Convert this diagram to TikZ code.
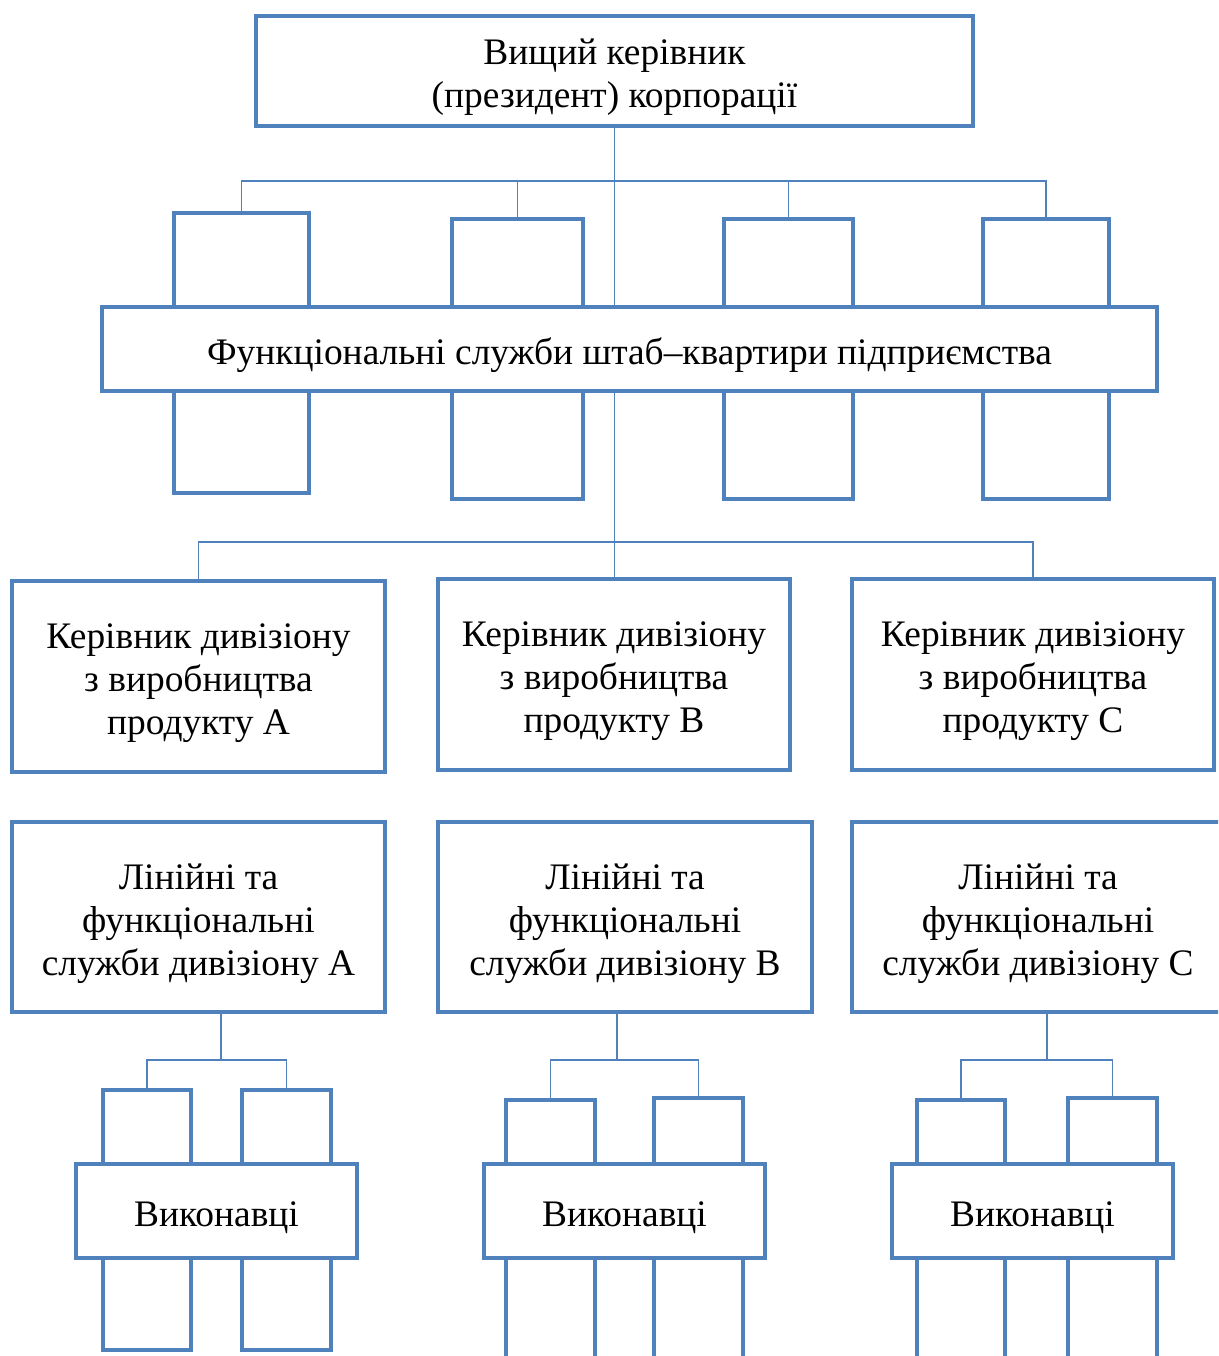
\documentclass[tikz,border=0pt]{standalone}
\usepackage{fontspec}
\setmainfont{Liberation Serif}
\definecolor{boxblue}{RGB}{79,129,189}
\newcommand\strutup{\rule{0pt}{22pt}}
\tikzset{
  blok/.style={draw=boxblue, line width=2.2pt, fill=white, inner sep=0pt, align=center,
    font=\fontsize{21.3}{24.4}\selectfont},
  lnk/.style={draw=boxblue, line width=1.1pt},
}
\begin{document}
\begin{tikzpicture}[x=0.02cm, y=-0.02cm]
  \useasboundingbox (0,0) rectangle (1218,1356);
  \clip (0,0) rectangle (1218,1356);
  % Top manager
  \node[blok, minimum width=14.34cm, minimum height=2.2cm] (top) at (614.5,71)
    {\strutup Вищий керівник\\(президент) корпорації};
  % Functional services of headquarters
  \node[blok, minimum width=2.7cm, minimum height=5.6cm] (f1) at (241.5,353) {};
  \node[blok, minimum width=2.62cm, minimum height=5.6cm] (f2) at (517.5,359) {};
  \node[blok, minimum width=2.58cm, minimum height=5.6cm] (f3) at (788.5,359) {};
  \node[blok, minimum width=2.52cm, minimum height=5.6cm] (f4) at (1046,359) {};
  \node[blok, minimum width=21.1cm, minimum height=1.68cm] (band) at (629.5,349)
    {\strutup Функціональні служби штаб–квартири підприємства};
  % Division managers
  \node[blok, minimum width=7.46cm, minimum height=3.82cm] (divA) at (198.5,676.5)
    {\strutup Керівник дивізіону\\з виробництва\\продукту A};
  \node[blok, minimum width=7.04cm, minimum height=3.82cm] (divB) at (614,674.5)
    {\strutup Керівник дивізіону\\з виробництва\\продукту B};
  \node[blok, minimum width=7.24cm, minimum height=3.82cm] (divC) at (1033,674.5)
    {\strutup Керівник дивізіону\\з виробництва\\продукту C};
  % Division services
  \node[blok, minimum width=7.46cm, minimum height=3.8cm] (srvA) at (198.5,917)
    {\strutup Лінійні та\\функціональні\\служби дивізіону A};
  \node[blok, minimum width=7.48cm, minimum height=3.8cm] (srvB) at (625,917)
    {\strutup Лінійні та\\функціональні\\служби дивізіону B};
  \node[blok, minimum width=7.44cm, minimum height=3.8cm] (srvC) at (1038,917)
    {\strutup Лінійні та\\функціональні\\служби дивізіону C};
  % Executors
  \node[blok, minimum width=1.76cm, minimum height=5.2cm] (a1) at (147,1220) {};
  \node[blok, minimum width=1.78cm, minimum height=5.2cm] (a2) at (286.5,1220) {};
  \node[blok, minimum width=1.78cm, minimum height=6cm] (b1) at (550.5,1250) {};
  \node[blok, minimum width=1.78cm, minimum height=6.04cm] (b2) at (698.5,1249) {};
  \node[blok, minimum width=1.76cm, minimum height=6cm] (c1) at (961,1250) {};
  \node[blok, minimum width=1.78cm, minimum height=6.04cm] (c2) at (1112.5,1249) {};
  \node[blok, minimum width=5.62cm, minimum height=1.88cm] (exA) at (216.5,1211) {\strutup Виконавці};
  \node[blok, minimum width=5.62cm, minimum height=1.88cm] (exB) at (624.5,1211) {\strutup Виконавці};
  \node[blok, minimum width=5.62cm, minimum height=1.88cm] (exC) at (1032.5,1211) {\strutup Виконавці};
  % Connectors
  \coordinate (hub1) at (614.5,181);
  \coordinate (hub2) at (614.5,542);
  \coordinate (hubA) at (221,1060);
  \coordinate (hubB) at (617,1060);
  \coordinate (hubC) at (1047,1060);
  \draw[lnk] (top.south) -- (top.south |- band.north);
  \draw[lnk] (band.south -| top.south) -- (divB.north -| top.south);
  \draw[lnk] (f1.north) |- (hub1) -| (f4.north);
  \draw[lnk] (f2.north) -- (f2.north |- hub1);
  \draw[lnk] (f3.north) -- (f3.north |- hub1);
  \draw[lnk] (divA.north) |- (hub2) -| (divC.north);
  \draw[lnk] (srvA.south -| hubA) -- (hubA);
  \draw[lnk] (a1.north) |- (hubA) -| (a2.north);
  \draw[lnk] (srvB.south -| hubB) -- (hubB);
  \draw[lnk] (b1.north) |- (hubB) -| (b2.north);
  \draw[lnk] (srvC.south -| hubC) -- (hubC);
  \draw[lnk] (c1.north) |- (hubC) -| (c2.north);
\end{tikzpicture}
\end{document}
